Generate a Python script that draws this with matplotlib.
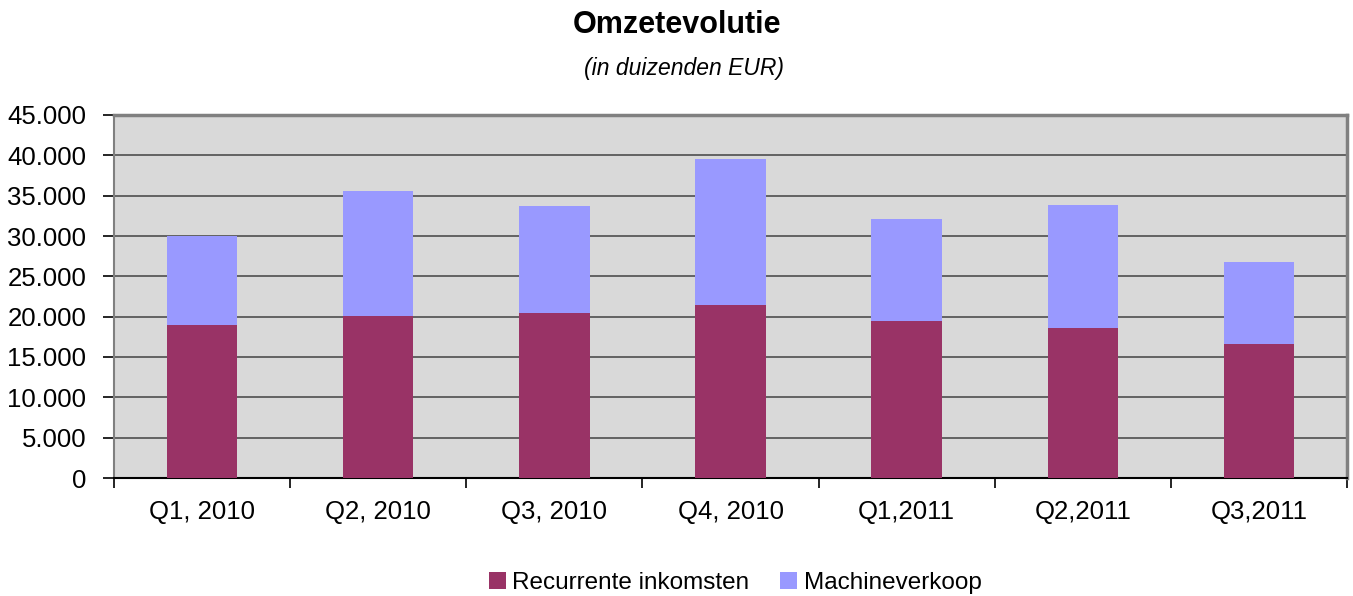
import numpy as np
import matplotlib
matplotlib.use("Agg")
import matplotlib.pyplot as plt
from matplotlib.ticker import FuncFormatter, MultipleLocator

# data (in duizenden EUR)
quarters = ["Q1, 2010", "Q2, 2010", "Q3, 2010", "Q4, 2010", "Q1,2011", "Q2,2011", "Q3,2011"]
recurrent = [19000, 20100, 20500, 21400, 19500, 18600, 16600]
machines = [11000, 15450, 13200, 18100, 12550, 15200, 10200]

plt.rcParams['font.family'] = ['Liberation Sans', 'DejaVu Sans']

fig = plt.figure(figsize=(13.53, 5.96), dpi=100)
ax = fig.add_axes([114/1353, 1 - 478/596, 1233/1353, 363/596])
ax.set_facecolor('#D9D9D9')

x = np.arange(len(quarters))
ax.bar(x, recurrent, width=0.4, color='#993366', label='Recurrente inkomsten', zorder=3)
ax.bar(x, machines, width=0.4, bottom=recurrent, color='#9999FF', label='Machineverkoop', zorder=3)

ax.set_xlim(-0.5, len(quarters) - 0.5)
ax.set_ylim(0, 45000)
ax.yaxis.set_major_locator(MultipleLocator(5000))
ax.yaxis.set_major_formatter(FuncFormatter(lambda v, p: f"{int(v):,}".replace(",", ".")))
ax.grid(axis='y', color='#595959', linewidth=1.3, zorder=1)
ax.set_axisbelow(True)

# category labels centred, ticks between categories
ax.set_xticks(x)
ax.set_xticklabels(quarters, fontsize=18.5)
ax.tick_params(axis='x', which='major', length=0, pad=16)
ax.set_xticks(np.arange(len(quarters) + 1) - 0.5, minor=True)
ax.tick_params(axis='x', which='minor', length=7, width=1.2, color='black', direction='out')
ax.tick_params(axis='y', length=8, width=1.2, color='black', direction='out', pad=12, labelsize=18.5)

for s in ['top', 'right']:
    ax.spines[s].set_color('#808080')
    ax.spines[s].set_linewidth(2.5)
ax.spines['left'].set_color('#808080')
ax.spines['left'].set_linewidth(1.5)
ax.spines['bottom'].set_color('black')
ax.spines['bottom'].set_linewidth(1.5)

fig.text(0.5, 1 - 33/596, "Omzetevolutie", ha='center', va='baseline', fontsize=22, fontweight='bold')
fig.text(684/1353, 1 - 75/596, "(in duizenden EUR)", ha='center', va='baseline', fontsize=16.5, style='italic')

fig.legend(loc='center', bbox_to_anchor=(735/1353, 1 - 583/596), ncol=2, frameon=False,
           fontsize=17.5, handlelength=0.7, handleheight=0.7, handletextpad=0.25, columnspacing=1.3,
           borderpad=0.1)

fig.savefig("out.png", dpi=100)
